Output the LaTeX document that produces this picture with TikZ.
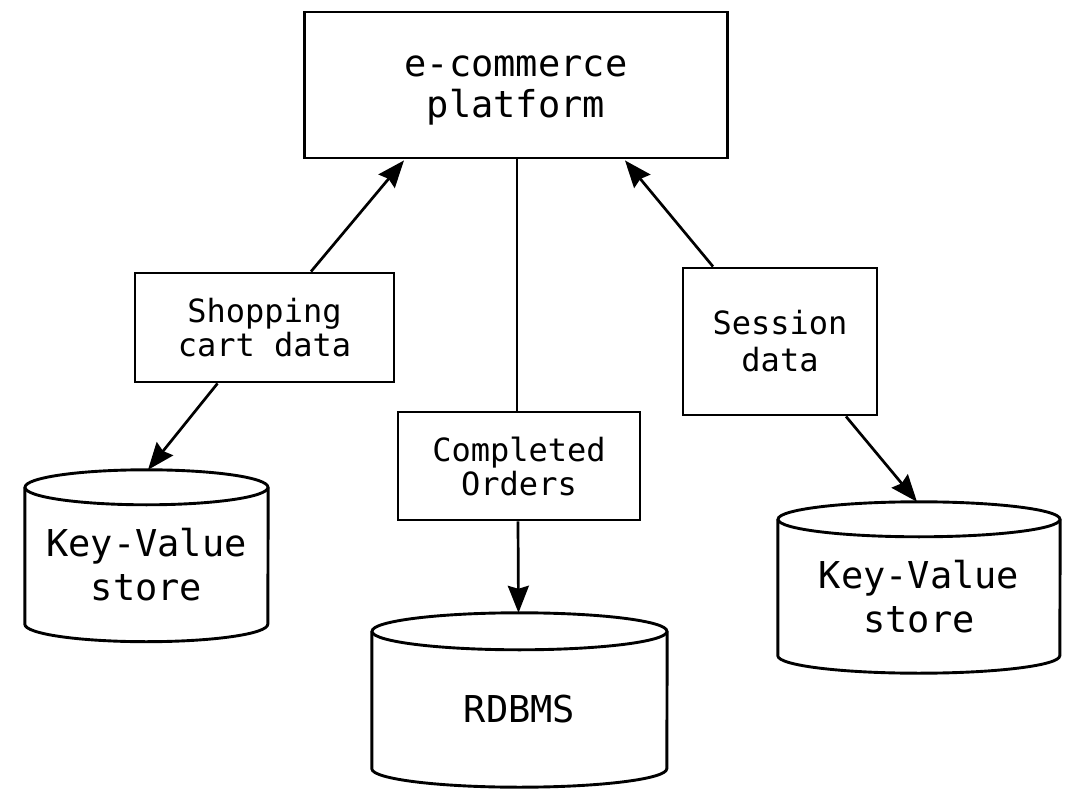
\documentclass[tikz,border=0pt]{standalone}
\usepackage{fontspec}
\newfontfamily\dvm{DejaVu Sans Mono}
\usetikzlibrary{arrows.meta}
\tikzset{
  line/.style={line width=2.9pt, draw=black},
  arr/.style={line width=2.7pt, draw=black, -{Stealth[length=27pt,width=21pt,inset=3pt]}},
  boxbig/.style={draw, line width=2.9pt, inner sep=0pt, align=center, font=\dvm\fontsize{37}{41}\selectfont},
  boxsmall/.style={draw, line width=2.9pt, inner sep=0pt, align=center, font=\dvm\fontsize{32}{34}\selectfont},
  cylbody/.style={draw=none, inner sep=0pt, align=center, font=\dvm\fontsize{37}{44}\selectfont},
}
\begin{document}
\begin{tikzpicture}[x=1pt,y=-1pt]
\useasboundingbox[fill=white] (0,0) rectangle (1087,799);

% rectangles
\node[boxbig, minimum width=423pt, minimum height=146pt] (top) at (516,85) {\rule{0pt}{32pt}e-commerce\\platform};
\node[boxsmall, minimum width=259pt, minimum height=109pt] (cart) at (264.5,327.5) {Shopping\\cart data};
\node[boxsmall, minimum width=242pt, minimum height=108pt] (orders) at (519,466) {Completed\\Orders};
\node[boxsmall, minimum width=194pt, minimum height=147pt, font=\dvm\fontsize{32}{37}\selectfont] (session) at (780,341.5) {Session\\data};

% cylinder bodies (text holders)
\node[cylbody, minimum width=243pt, minimum height=119pt] (kv1) at (146.5,564.5) {Key-Value\\store};
\node[cylbody, minimum width=295pt, minimum height=118.5pt] (rdb) at (519.5,709.25) {RDBMS};
\node[cylbody, minimum width=282pt, minimum height=118.5pt] (kv2) at (919,596.25) {Key-Value\\store};

% cylinder outlines
\draw[line] ([yshift=17.5pt]kv1.north) ellipse [x radius=121.5pt, y radius=17.5pt];
\draw[line] ([yshift=17.5pt]kv1.north west) -- (kv1.south west)
  arc [start angle=180, end angle=360, x radius=121.5pt, y radius=17.5pt]
  -- ([yshift=17.5pt]kv1.north east);

\draw[line] ([yshift=18.5pt]rdb.north) ellipse [x radius=147.5pt, y radius=18.5pt];
\draw[line] ([yshift=18.5pt]rdb.north west) -- (rdb.south west)
  arc [start angle=180, end angle=360, x radius=147.5pt, y radius=18.5pt]
  -- ([yshift=18.5pt]rdb.north east);

\draw[line] ([yshift=17.5pt]kv2.north) ellipse [x radius=141pt, y radius=17.5pt];
\draw[line] ([yshift=17.5pt]kv2.north west) -- (kv2.south west)
  arc [start angle=180, end angle=360, x radius=141pt, y radius=17.5pt]
  -- ([yshift=17.5pt]kv2.north east);

% connectors
\draw[arr] ([xshift=46.5pt]cart.north) -- ([xshift=-112pt,yshift=-1pt]top.south);
\draw[arr] ([xshift=-47pt]cart.south) -- ([xshift=1.5pt,yshift=35pt]kv1.north);
\draw[line] ([xshift=1pt]top.south) -- ([xshift=-2pt]orders.north);
\draw[arr] ([xshift=-1pt]orders.south) -- ([xshift=-1pt,yshift=37pt]rdb.north);
\draw[arr] ([xshift=-67pt]session.north) -- ([xshift=109pt,yshift=-1pt]top.south);
\draw[arr] ([xshift=66pt]session.south) -- ([xshift=-2pt,yshift=35pt]kv2.north);
\end{tikzpicture}
\end{document}
